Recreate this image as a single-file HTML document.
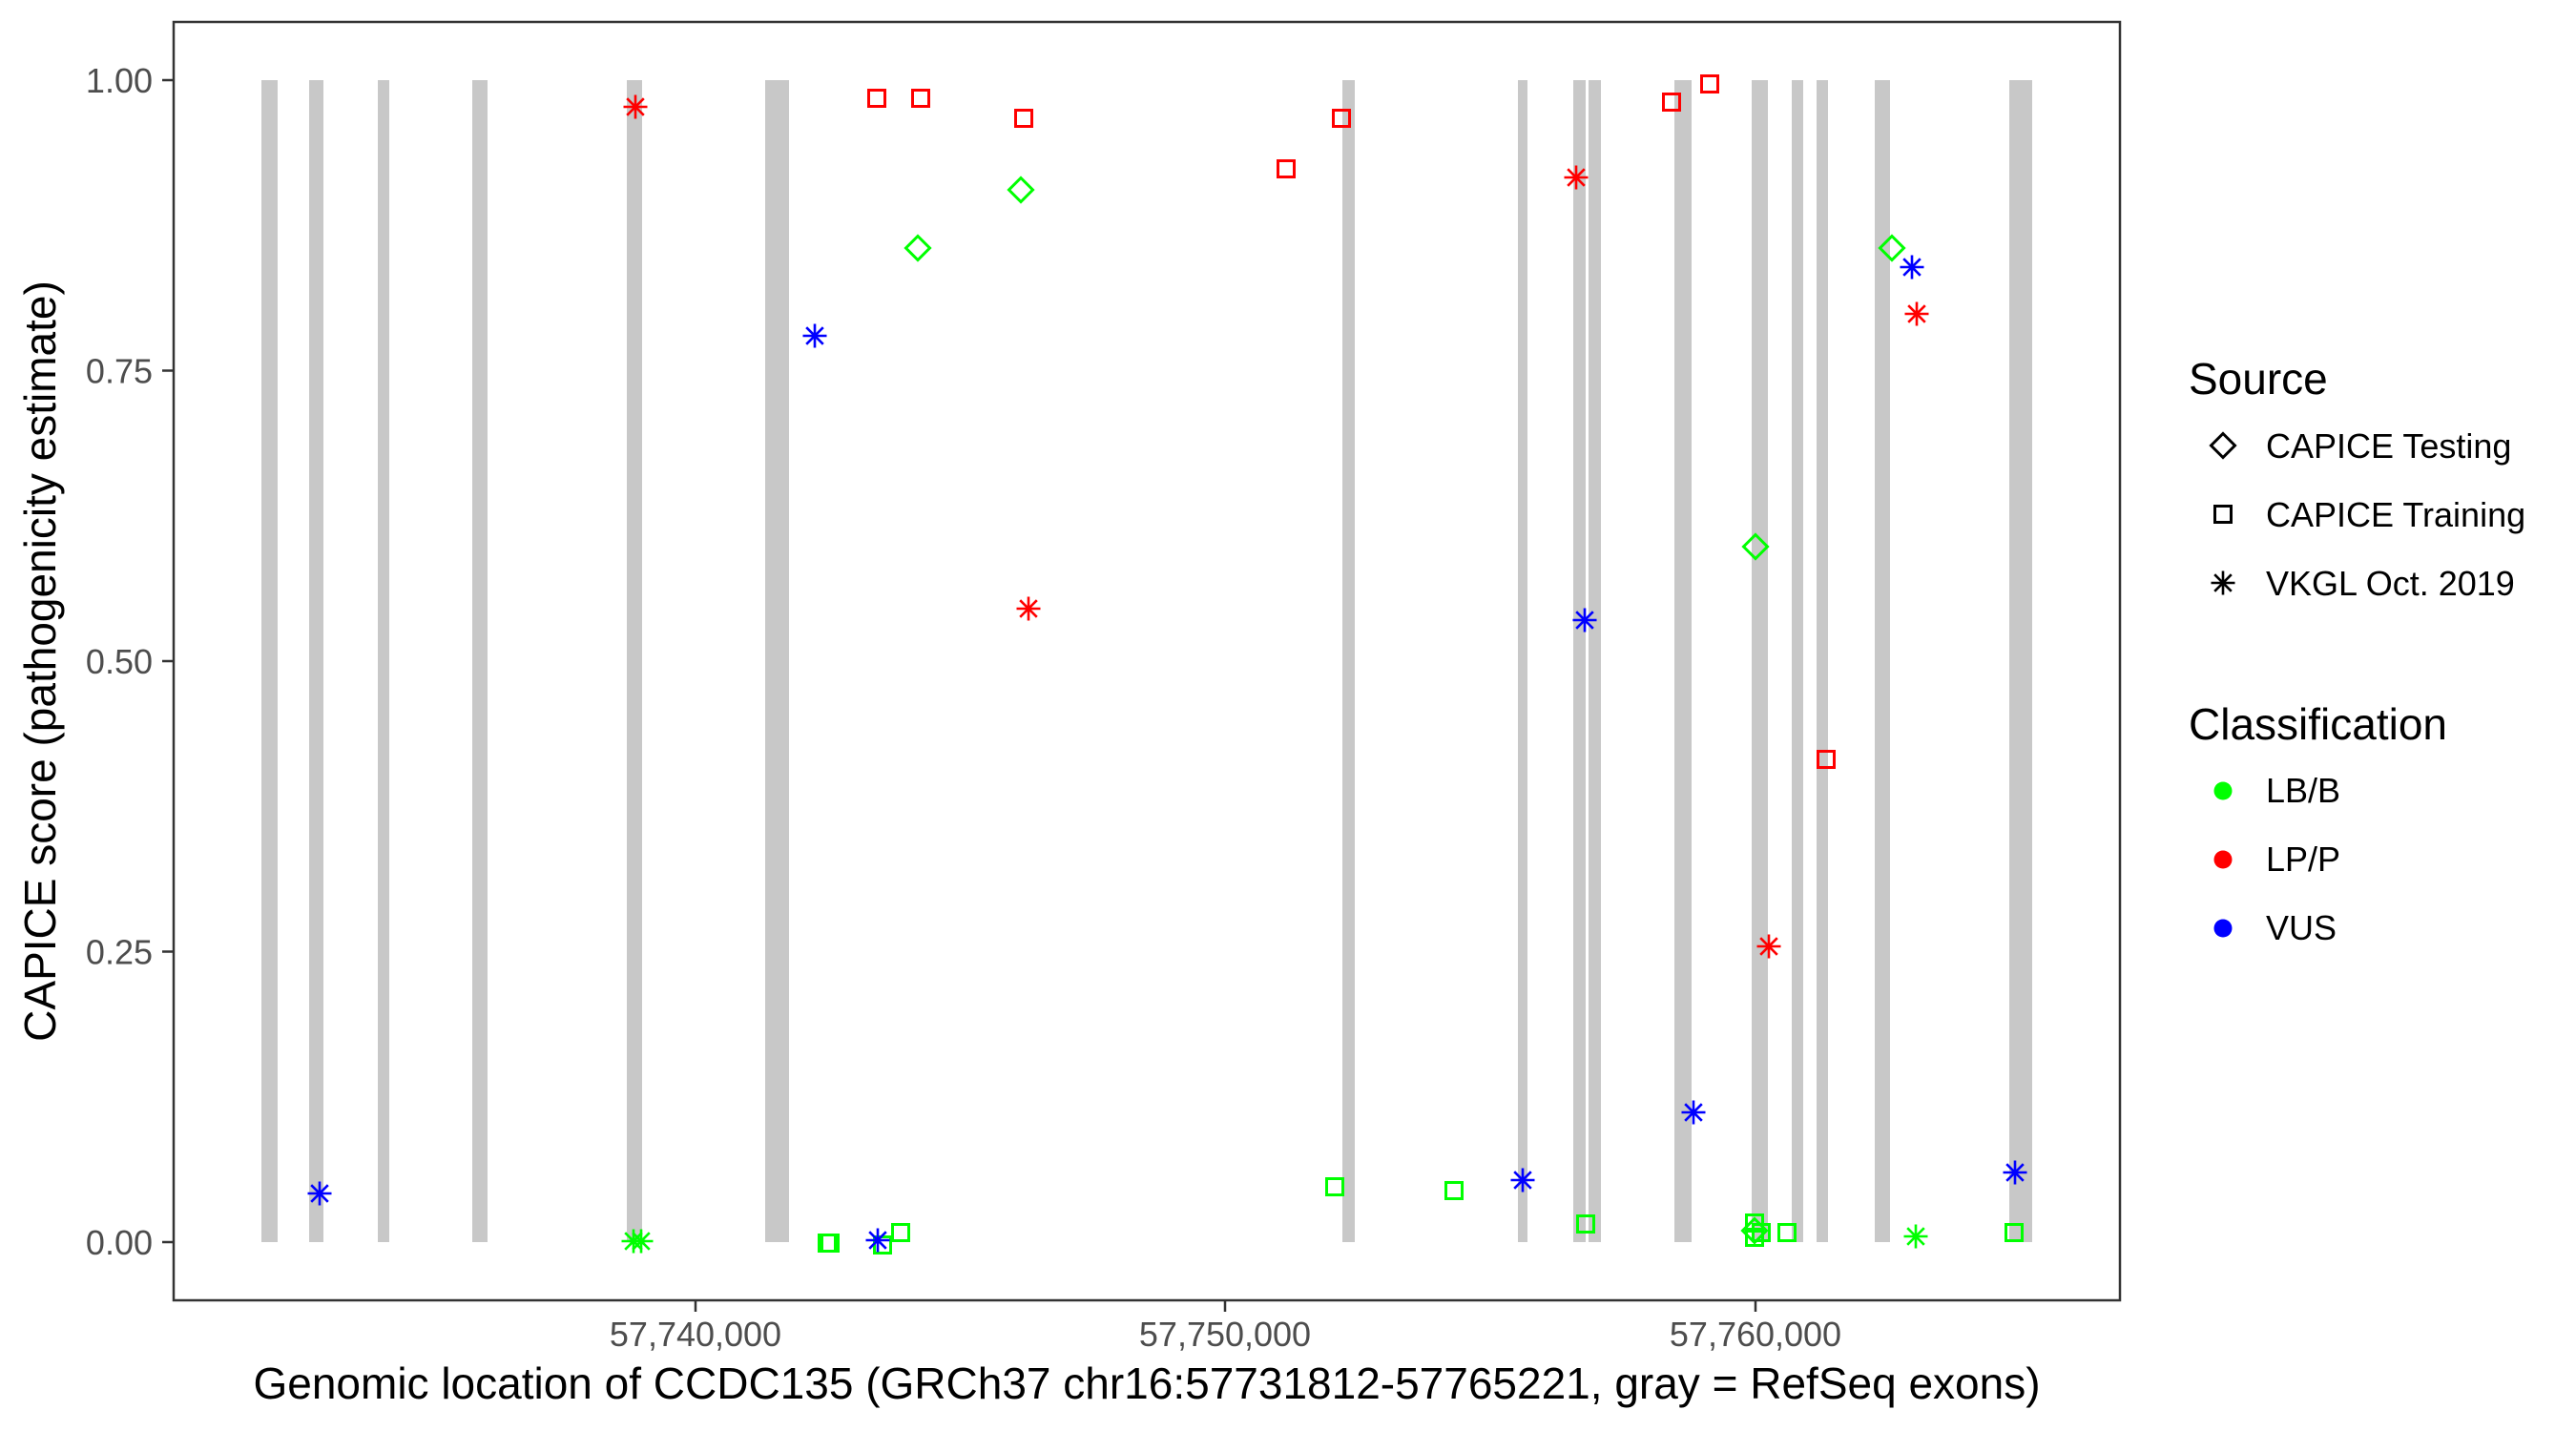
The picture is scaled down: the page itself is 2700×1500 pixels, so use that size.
<!DOCTYPE html>
<html><head><meta charset="utf-8"><style>
html,body{margin:0;padding:0;background:#fff;}
svg{display:block;}
</style></head><body>
<svg width="2700" height="1500" viewBox="0 0 2700 1500" xmlns="http://www.w3.org/2000/svg" font-family="Liberation Sans, Arial, sans-serif">
<defs>
<g id="st"><path d="M0,-12.5V12.5M-12.5,0H12.5M-8.8,-8.8L8.8,8.8M-8.8,8.8L8.8,-8.8" stroke-width="2.6" fill="none"/></g>
<g id="sq"><rect x="-8.5" y="-8.5" width="17" height="17" stroke-width="3" fill="none"/></g>
<g id="di"><path d="M0,-12.5L12.5,0L0,12.5L-12.5,0Z" stroke-width="3" fill="none"/></g>
</defs>
<rect width="2700" height="1500" fill="#fff"/>
<g fill="#c8c8c8">
<rect x="274" y="84" width="17" height="1218"/>
<rect x="324" y="84" width="15" height="1218"/>
<rect x="396" y="84" width="12" height="1218"/>
<rect x="495" y="84" width="16" height="1218"/>
<rect x="657" y="84" width="16" height="1218"/>
<rect x="802" y="84" width="25" height="1218"/>
<rect x="1407" y="84" width="13" height="1218"/>
<rect x="1591" y="84" width="10" height="1218"/>
<rect x="1649" y="84" width="13" height="1218"/>
<rect x="1665" y="84" width="13" height="1218"/>
<rect x="1755" y="84" width="18" height="1218"/>
<rect x="1836" y="84" width="17" height="1218"/>
<rect x="1878" y="84" width="12" height="1218"/>
<rect x="1904" y="84" width="12" height="1218"/>
<rect x="1965" y="84" width="16" height="1218"/>
<rect x="2106" y="84" width="24" height="1218"/>
</g>
<g stroke="#00ff00">
<use href="#st" x="664" y="1301"/><use href="#st" x="672" y="1301"/>
<use href="#sq" x="867" y="1303"/><use href="#sq" x="870" y="1303"/>
<use href="#sq" x="925" y="1305"/><use href="#sq" x="944" y="1292"/>
<use href="#di" x="962" y="260"/><use href="#di" x="1070" y="199"/>
<use href="#sq" x="1399" y="1244"/><use href="#sq" x="1524" y="1248"/>
<use href="#sq" x="1662" y="1283"/>
<use href="#di" x="1840" y="573"/>
<use href="#sq" x="1839" y="1282"/><use href="#sq" x="1839" y="1297"/><use href="#di" x="1839" y="1290"/>
<use href="#sq" x="1846" y="1292"/><use href="#sq" x="1873" y="1292"/>
<use href="#di" x="1983" y="260"/>
<use href="#st" x="2008" y="1296"/>
<use href="#sq" x="2111" y="1292"/>
</g>
<g stroke="#ff0000">
<use href="#st" x="666" y="112"/>
<use href="#sq" x="919" y="103"/><use href="#sq" x="965" y="103"/>
<use href="#sq" x="1073" y="124"/>
<use href="#st" x="1078" y="638"/>
<use href="#sq" x="1348" y="177"/><use href="#sq" x="1406" y="124"/>
<use href="#st" x="1652" y="186"/>
<use href="#sq" x="1752" y="107"/><use href="#sq" x="1792" y="88"/>
<use href="#st" x="1854" y="992"/>
<use href="#sq" x="1914" y="796"/>
<use href="#st" x="2009" y="329"/>
</g>
<g stroke="#0000ff">
<use href="#st" x="335" y="1251"/>
<use href="#st" x="854" y="352"/>
<use href="#st" x="920" y="1300"/>
<use href="#st" x="1596" y="1237"/>
<use href="#st" x="1661" y="650"/>
<use href="#st" x="1775" y="1166"/>
<use href="#st" x="2004" y="280"/>
<use href="#st" x="2112" y="1229"/>
</g>
<rect x="182" y="23" width="2040" height="1340" fill="none" stroke="#333" stroke-width="2.5"/>
<g stroke="#333" stroke-width="2.5">
<line x1="170" y1="84" x2="182" y2="84"/><line x1="170" y1="388.5" x2="182" y2="388.5"/>
<line x1="170" y1="693" x2="182" y2="693"/><line x1="170" y1="997.5" x2="182" y2="997.5"/>
<line x1="170" y1="1302" x2="182" y2="1302"/>
<line x1="729" y1="1363" x2="729" y2="1375"/><line x1="1284" y1="1363" x2="1284" y2="1375"/><line x1="1840" y1="1363" x2="1840" y2="1375"/>
</g>
<g fill="#4d4d4d" font-size="36" text-anchor="end">
<text x="160" y="97">1.00</text><text x="160" y="401.5">0.75</text><text x="160" y="706">0.50</text>
<text x="160" y="1010.5">0.25</text><text x="160" y="1315">0.00</text>
</g>
<g fill="#4d4d4d" font-size="36" text-anchor="middle">
<text x="729" y="1411">57,740,000</text><text x="1284" y="1411">57,750,000</text><text x="1840" y="1411">57,760,000</text>
</g>
<text x="1202" y="1466" font-size="46" text-anchor="middle" fill="#000">Genomic location of CCDC135 (GRCh37 chr16:57731812-57765221, gray = RefSeq exons)</text>
<text transform="translate(58,693) rotate(-90)" font-size="46" text-anchor="middle" fill="#000">CAPICE score (pathogenicity estimate)</text>
<g fill="#000">
<text x="2294" y="413" font-size="46">Source</text>
<text x="2375" y="480" font-size="36">CAPICE Testing</text>
<text x="2375" y="552" font-size="36">CAPICE Training</text>
<text x="2375" y="624" font-size="36">VKGL Oct. 2019</text>
<text x="2294" y="775" font-size="46">Classification</text>
<text x="2375" y="841" font-size="36">LB/B</text>
<text x="2375" y="913" font-size="36">LP/P</text>
<text x="2375" y="985" font-size="36">VUS</text>
</g>
<g stroke="#000">
<use href="#di" x="2330" y="467"/>
<use href="#sq" x="2330" y="539"/>
<use href="#st" x="2330" y="611"/>
</g>
<circle cx="2330" cy="829" r="9.5" fill="#00ff00"/>
<circle cx="2330" cy="901" r="9.5" fill="#ff0000"/>
<circle cx="2330" cy="973" r="9.5" fill="#0000ff"/>
</svg>
</body></html>
